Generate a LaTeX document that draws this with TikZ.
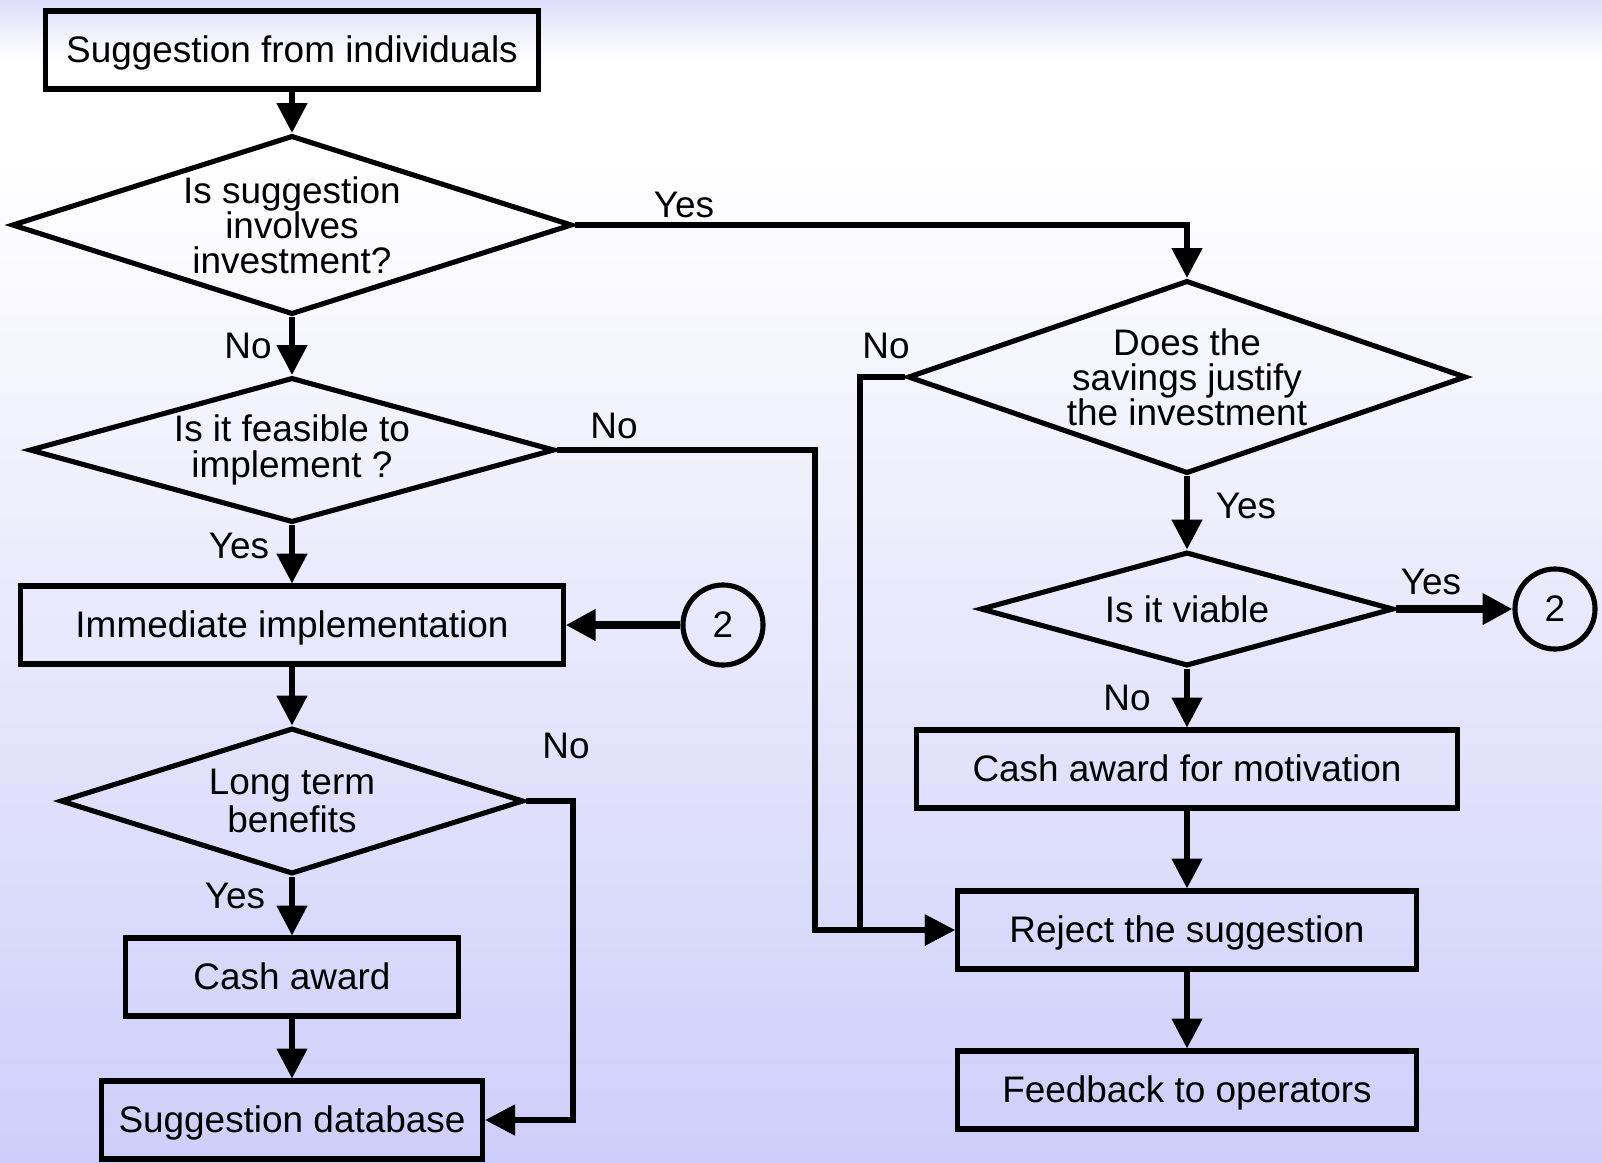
\documentclass[tikz,border=0pt]{standalone}
\usepackage{fontspec}
\setmainfont{Liberation Sans}
\usetikzlibrary{shapes.geometric,arrows.meta}

\definecolor{lavtop}{RGB}{222,222,250}
\definecolor{lavbot}{RGB}{206,206,250}

\tikzset{
  box/.style={draw, line width=1.45pt, rectangle, inner sep=0pt, minimum height=0.78cm,
    text height=0.72em, text depth=0pt},
  decision/.style={draw, line width=1.45pt, diamond, inner sep=0pt, align=center,
    font=\fontsize{10.5}{10}\selectfont},
  conn/.style={draw, line width=1.45pt, circle, inner sep=0pt, minimum size=0.8cm},
  flow/.style={line width=1.45pt, -{Triangle[length=8.5pt,width=8.5pt]}},
  thick flow/.style={flow, line width=2.2pt},
  lbl/.style={inner sep=0pt}
}

\begin{document}
\begin{tikzpicture}[x=0.01cm,y=-0.01cm,font=\fontsize{10.5}{12.6}\selectfont]
      \useasboundingbox (0,0) rectangle (1602,1162);
      % background
      \fill[top color=lavtop, bottom color=white] (0,0) rectangle (1602,60);
      \fill[white] (0,59) rectangle (1602,161);
      \fill[top color=white, bottom color=lavbot] (0,160) rectangle (1602,1162);

      % left column
      \node[box, minimum width=4.92cm] (src) at (292,50) {Suggestion from individuals};
      \node[decision, shape aspect=3.2, minimum width=5.6cm, minimum height=1.79cm] (invest) at (292,225) {Is suggestion\\involves\\investment?};
      \node[decision, shape aspect=3.7, minimum width=5.25cm, minimum height=1.45cm] (feasible) at (292,450) {Is it feasible to\\implement ?};
      \node[box, minimum width=5.42cm] (impl) at (292,625) {Immediate implementation};
      \node[conn] (twoL) at (723,625) {2};
      \node[decision, shape aspect=3.3, minimum width=4.63cm, minimum height=1.46cm, font=\fontsize{10.5}{11}\selectfont] (longterm) at (292,801) {Long term\\benefits};
      \node[box, minimum width=3.33cm] (award) at (292,977) {Cash award};
      \node[box, minimum width=3.81cm] (db) at (292,1120) {Suggestion database};

      % right column
      \node[decision, shape aspect=2.95, minimum width=5.58cm, minimum height=1.93cm] (savings) at (1187,377) {Does the\\savings justify\\the investment};
      \node[decision, shape aspect=3.8, minimum width=4.13cm, minimum height=1.14cm] (viable) at (1187,609) {Is it viable};
      \node[conn] (twoR) at (1555,609) {2};
      \node[box, minimum width=5.41cm] (motiv) at (1187,769) {Cash award for motivation};
      \node[box, minimum width=4.59cm] (reject) at (1187,930) {Reject the suggestion};
      \node[box, minimum width=4.59cm] (feedback) at (1187,1090) {Feedback to operators};

      \coordinate (bendA) at (815,0);
      \coordinate (bendB) at (860,0);
      \coordinate (bendC) at (573,0);

      \draw[flow] (src) -- (invest);
      \draw[flow] (invest) -- (feasible);
      \draw[flow] (invest.east) -| (savings.north);
      \draw[flow] (feasible) -- (impl);
      \draw[flow] (feasible.east) -| (bendA |- reject.west) -- (reject.west);
      \draw[thick flow] (twoL) -- (impl);
      \draw[flow] (impl) -- (longterm);
      \draw[flow] (longterm) -- (award);
      \draw[flow] (longterm.east) -| (bendC |- db.east) -- (db.east);
      \draw[flow] (award) -- (db);
      \draw[flow] (savings.west) -| (bendB |- reject.west) -- (reject.west);
      \draw[flow] (savings) -- (viable);
      \draw[thick flow] (viable) -- (twoR);
      \draw[flow] (viable) -- (motiv);
      \draw[flow] (motiv) -- (reject);
      \draw[flow] (reject) -- (feedback);

      % labels
      \node[lbl] (yes1) at (684,205) {Yes};
      \node[lbl] (no1) at (248,346) {No};
      \node[lbl] (no2) at (614,426) {No};
      \node[lbl] (yes2) at (239,546) {Yes};
      \node[lbl] (no3) at (566,746) {No};
      \node[lbl] (yes3) at (235,896) {Yes};
      \node[lbl] (no4) at (886,346) {No};
      \node[lbl] (yes4) at (1246,506) {Yes};
      \node[lbl] (yes5) at (1431,582) {Yes};
      \node[lbl] (no5) at (1127,698) {No};
    \end{tikzpicture}
\end{document}
